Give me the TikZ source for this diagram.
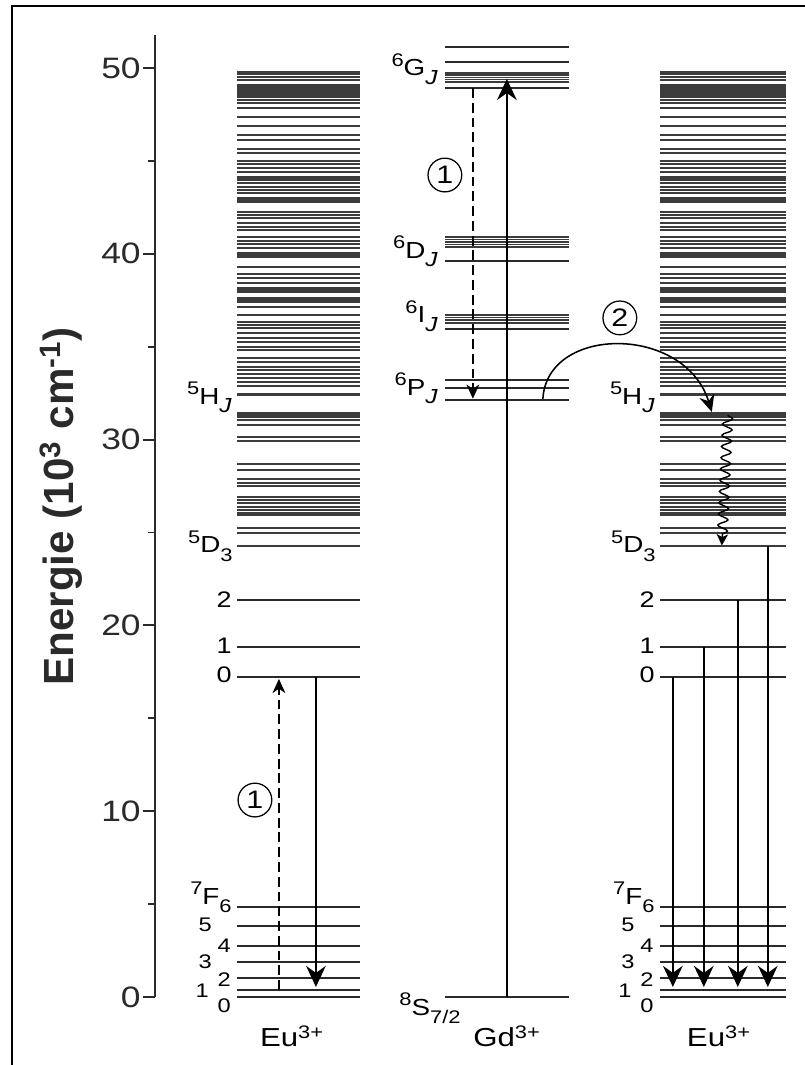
\documentclass[tikz,border=0pt]{standalone}
\usepackage{fontspec}
\setmainfont{Liberation Sans}[FakeStretch=1.2]
\newfontfamily\achsfont{Liberation Sans}
\usetikzlibrary{arrows.meta,decorations.pathmorphing}
\definecolor{grau}{HTML}{2A2A2A}
\definecolor{hgrau}{HTML}{3C3C3C}
\newcommand{\hoch}[1]{\raisebox{7pt}{\fontsize{13}{13}\selectfont #1}}
\newcommand{\tief}[1]{\raisebox{-6pt}{\fontsize{13}{13}\selectfont #1}}
\newcommand{\term}[3]{\hoch{#1}#2\tief{#3}}
\newcommand{\termJ}[2]{\hoch{#1}#2\raisebox{-6pt}{\fontsize{14.5}{14}\selectfont\itshape J}}
\tikzset{
  niv/.style={grau,line width=0.9pt},
  bnd/.style={hgrau,line width=1.1pt},
  ax/.style={grau,line width=1.3pt},
  pfeil/.style={-{Stealth[length=15pt,width=14pt,inset=5pt]},black,line width=1.2pt},
  gpfeil/.style={-{Stealth[length=10pt,width=9pt,inset=3pt]},black,line width=1.5pt,dash pattern=on 7pt off 3.5pt},
  bpfeil/.style={-{Stealth[length=12pt,width=11pt,inset=4pt]},black,line width=1.1pt},
  welle/.style={-{Stealth[length=8pt,width=8pt,inset=2pt]},black,line width=1pt,decorate,
    decoration={snake,amplitude=3.5pt,segment length=8pt,post length=7pt}},
  kreis/.style={draw,circle,line width=0.9pt,inner sep=0pt,minimum size=24pt,font=\fontsize{18}{18}\selectfont},
  skala/.style={anchor=east,inner sep=0pt,grau,font=\fontsize{21}{21}\selectfont},
  lbl/.style={anchor=base east,inner sep=0pt,font=\fontsize{16.5}{16}\selectfont},
  jlbl/.style={anchor=base east,inner sep=0pt,font=\fontsize{14}{14}\selectfont},
  dlbl/.style={anchor=base east,inner sep=0pt,font=\fontsize{16}{16}\selectfont},
  ion/.style={anchor=base,inner sep=0pt,font=\fontsize{18.5}{18}\selectfont},
}
\begin{document}
\begin{tikzpicture}[x=0.025cm,y=0.4645cm]
  \useasboundingbox (0,-3.66) rectangle (805,53.66);
  \draw[black,line width=1.9pt] (12,-3.66) -- (12,53.34) -- (805,53.34);
  \draw[ax] (155,0) -- (155,51.78);
  \foreach \e in {0,10,...,50} {
    \draw[ax] (143,\e) -- (155,\e);
    \node[skala] (t\e) at (141,\e) {\e};
  }
  \foreach \e in {5,15,...,45} \draw[ax] (148,\e) -- (155,\e);
  \node[rotate=90,grau,font=\achsfont\bfseries\fontsize{30}{30}\selectfont] (elab) at (61,26.4) {Energie (10\textsuperscript{3} cm\textsuperscript{-1})};
  \foreach \e in {49.78,49.68,49.52,49.35,49.09,48.98,48.87,48.76,48.65,48.55,48.44,48.28,48.12,47.85,
      47.36,46.88,46.39,46.12,45.64,45.43,45.00,44.83,44.62,44.40,44.13,44.08,43.97,43.81,43.60,43.43,
      43.27,43.00,42.90,42.79,42.25,42.09,41.93,41.66,41.44,41.28,40.90,40.69,40.53,40.31,40.04,39.94,
      39.83,39.29,38.91,38.70,38.43,38.16,38.05,37.94,37.62,37.51,37.41,37.14,36.71,36.33,36.17,36.01,
      35.74,35.47,35.25,34.98,34.82,34.39,34.18,33.91,33.75,33.53,33.32,33.10,32.88,32.45,32.40,31.43,
      31.32,31.22,31.05,30.79,30.14,29.92,28.69,28.36,27.88,27.66,27.50,26.91,26.75,26.59,26.37,26.21,
      26.05,25.94,25.24,24.97,24.27} {
    \draw[bnd] (237,\e) -- (360,\e);
    \draw[bnd] (660,\e) -- (786,\e);
  }
  \foreach \e in {0,0.38,1.02,1.88,2.74,3.82,4.84,17.22,18.84,21.37} {
    \draw[niv] (237,\e) -- (360,\e);
    \draw[niv] (660,\e) -- (786,\e);
  }
  \foreach \e in {51.13,50.32,48.92,39.61,35.95,33.21,32.78,32.13,0}
    \draw[niv] (445,\e) -- (569,\e);
  \foreach \e in {49.73,49.61,49.49,49.37,49.25,40.90,40.77,40.64,40.50,40.37,36.71,36.57,36.43,36.28}
    \draw[bnd] (445,\e) -- (569,\e);
  \foreach \s/\x in {l/0,r/423} {
    \node[lbl] (h\s) at (232+\x,31.9) {\termJ{5}{H}};
    \node[lbl] (d\s) at (233+\x,23.9) {\term{5}{D}{3}};
    \node[dlbl] (dz\s) at (232+\x,20.94) {2};
    \node[dlbl] (de\s) at (232+\x,18.51) {1};
    \node[dlbl] (dn\s) at (232+\x,16.9) {0};
    \node[lbl] (f\s) at (232+\x,5.0) {\term{7}{F}{6}};
    \node[jlbl] (ff\s) at (212+\x,3.5) {5};
    \node[jlbl] (fv\s) at (231+\x,2.37) {4};
    \node[jlbl] (fd\s) at (212+\x,1.56) {3};
    \node[jlbl] (fz\s) at (231+\x,0.54) {2};
    \node[jlbl] (fe\s) at (209+\x,-0.05) {1};
    \node[jlbl] (fn\s) at (231+\x,-0.86) {0};
  }
  \node[lbl] (gG) at (438,49.57) {\termJ{6}{G}};
  \node[lbl] (gD) at (438,39.77) {\termJ{6}{D}};
  \node[lbl] (gI) at (438,36.28) {\termJ{6}{I}};
  \node[lbl] (gP) at (438,32.4) {\termJ{6}{P}};
  \node[lbl] (gS) at (461,-0.97) {\term{8}{S}{7/2}};
  \node[ion] (eul) at (292,-2.69) {Eu\textsuperscript{3+}};
  \node[ion] (gd) at (507,-2.69) {Gd\textsuperscript{3+}};
  \node[ion] (eur) at (719,-2.69) {Eu\textsuperscript{3+}};
  \coordinate (gdS) at (507,0);
  \coordinate (gdG) at (507,49.41);
  \draw[pfeil] (gdS) -- (gdG);
  \coordinate (gdGu) at (473,48.92);
  \coordinate (gdPu) at (473,32.2);
  \draw[gpfeil] (gdGu) -- (gdPu);
  \node[kreis] (k1g) at (445,44.24) {1};
  \coordinate (euF1) at (279,0.38);
  \coordinate (euD0) at (279,17.12);
  \draw[gpfeil] (euF1) -- (euD0);
  \coordinate (euD0a) at (316,17.22);
  \coordinate (euFa) at (316,0.54);
  \draw[pfeil] (euD0a) -- (euFa);
  \node[kreis] (k1e) at (255,10.6) {1};
  \coordinate (gdP) at (543,32.19);
  \coordinate (euH) at (712,31.49);
  \draw[bpfeil] (gdP) .. controls (547,36.17) and (685,36.2) .. (euH);
  \node[kreis] (k2) at (620,36.55) {2};
  \coordinate (euHw) at (728,31.32);
  \coordinate (euD3w) at (722,24.3);
  \draw[welle] (euHw) -- (euD3w);
  \foreach \x/\e/\n in {673/17.22/0,704/18.84/1,738/21.37/2,768/24.27/3} {
    \coordinate (dj\n) at (\x,\e);
    \coordinate (fj\n) at (\x,0.54);
    \draw[pfeil] (dj\n) -- (fj\n);
  }
\end{tikzpicture}
\end{document}
